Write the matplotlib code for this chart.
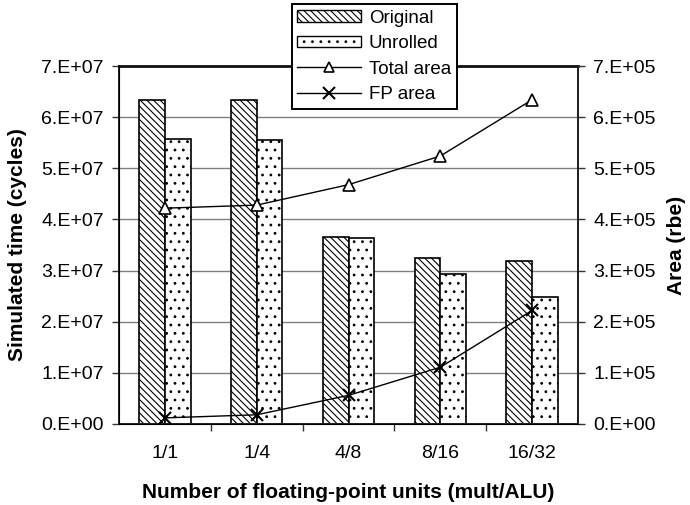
import matplotlib
matplotlib.use("Agg")
import matplotlib.pyplot as plt
import numpy as np
from matplotlib.patches import Patch
from matplotlib.lines import Line2D

plt.rcParams['font.family'] = ['Liberation Sans', 'DejaVu Sans']
plt.rcParams['hatch.linewidth'] = 0.8

# Data
categories = ["1/1", "1/4", "4/8", "8/16", "16/32"]
original = [6.33e7, 6.33e7, 3.66e7, 3.24e7, 3.19e7]
unrolled = [5.58e7, 5.56e7, 3.63e7, 2.93e7, 2.49e7]
total_area = [4.22e5, 4.28e5, 4.68e5, 5.24e5, 6.34e5]
fp_area = [0.12e5, 0.18e5, 0.56e5, 1.11e5, 2.22e5]
left_ticks = ["0.E+00", "1.E+07", "2.E+07", "3.E+07", "4.E+07", "5.E+07", "6.E+07", "7.E+07"]
right_ticks = ["0.E+00", "1.E+05", "2.E+05", "3.E+05", "4.E+05", "5.E+05", "6.E+05", "7.E+05"]

TICK_FS = 14
LABEL_FS = 15
LEG_FS = 13.5

fig = plt.figure(figsize=(6.9, 5.05), dpi=100)
ax = fig.add_axes([0.1725, 0.1604, 0.6652, 0.7089])

x = np.arange(len(categories))
w = 0.28
ax.bar(x - w / 2, original, width=w, color='white', edgecolor='black',
       hatch='\\\\\\\\\\', linewidth=1.2, zorder=2)
ax.bar(x + w / 2, unrolled, width=w, color='white', edgecolor='black',
       hatch='..', linewidth=1.2, zorder=2)

ax.set_xlim(-0.5, len(categories) - 0.5)
ax.set_ylim(0, 7e7)
ax.set_yticks(np.arange(8) * 1e7)
ax.set_yticklabels(left_ticks, fontsize=TICK_FS)
ax.yaxis.grid(True, color='#808080', linewidth=1.0, zorder=0)
ax.set_axisbelow(True)

ax.set_xticks(x)
ax.set_xticklabels(categories, fontsize=TICK_FS)
ax.set_xticks(x[:-1] + 0.5, minor=True)
ax.tick_params(axis='x', which='major', length=0, pad=15)
ax.tick_params(axis='x', which='minor', length=5, width=1, color='#333333')
ax.tick_params(axis='y', length=5, width=1, color='#333333', pad=6)

for side in ['left', 'right', 'bottom']:
    ax.spines[side].set_linewidth(1.4)
    ax.spines[side].set_color('#222222')
ax.spines['top'].set_linewidth(2.0)
ax.spines['top'].set_color('#111111')

ax.set_xlabel("Number of floating-point units (mult/ALU)", fontsize=LABEL_FS,
              fontweight='bold', va='center', ha='center')
ax.xaxis.set_label_coords(0.5, -0.19)
ax.set_ylabel("Simulated time (cycles)", fontsize=LABEL_FS, fontweight='bold',
              va='center', ha='center')
ax.yaxis.set_label_coords(-0.2205, 0.5)

ax2 = ax.twinx()
ax2.set_ylim(0, 7e5)
ax2.set_yticks(np.arange(8) * 1e5)
ax2.set_yticklabels(right_ticks, fontsize=TICK_FS)
ax2.tick_params(axis='y', length=5, width=1, color='#333333', pad=6)
ax2.spines['right'].set_linewidth(1.4)
ax2.spines['right'].set_color('#222222')
ax2.spines['top'].set_visible(False)
ax2.plot(x, total_area, color='black', linewidth=1.0, marker='^', markersize=8,
         markerfacecolor='white', markeredgecolor='black', markeredgewidth=1.2, zorder=3)
ax2.plot(x, fp_area, color='black', linewidth=1.0, marker='x', markersize=9,
         markeredgewidth=1.5, zorder=3)
ax2.set_ylabel("Area (rbe)", fontsize=LABEL_FS, fontweight='bold', rotation=90,
               va='center', ha='center')
ax2.yaxis.set_label_coords(1.214, 0.5)

handles = [
    Patch(facecolor='white', edgecolor='black', hatch='\\\\\\\\\\', linewidth=1.0),
    Patch(facecolor='white', edgecolor='black', hatch='..', linewidth=1.0),
    Line2D([], [], color='black', linewidth=1.0, marker='^', markersize=7,
           markerfacecolor='white', markeredgecolor='black', markeredgewidth=1.2),
    Line2D([], [], color='black', linewidth=1.0, marker='x', markersize=8,
           markeredgewidth=1.5),
]
labels = ["Original", "Unrolled", "Total area", "FP area"]
leg = ax2.legend(handles, labels, loc='upper left', bbox_to_anchor=(0.423, 0.992),
                 bbox_transform=fig.transFigure, borderaxespad=0, fontsize=LEG_FS,
                 frameon=True, fancybox=False, framealpha=1, edgecolor='black',
                 handlelength=3.4, handletextpad=0.4, labelspacing=0.45,
                 borderpad=0.3, handleheight=0.6)
leg.get_frame().set_linewidth(1.4)
leg.set_zorder(10)

fig.savefig("out.png", dpi=100)
